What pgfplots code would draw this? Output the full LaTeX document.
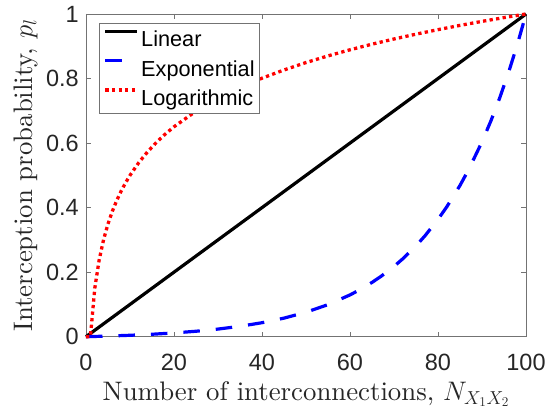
\RequirePackage{fix-cm}
\documentclass[border=0pt]{standalone}
\usepackage{fontspec}
\setmainfont{lmroman10-regular.otf}[ItalicFont=lmroman10-italic.otf]
\usepackage{pgfplots}
\pgfplotsset{compat=1.18}
\newfontfamily\arial{Liberation Sans}
\definecolor{axgray}{gray}{0.45}
\definecolor{txtgray}{gray}{0.15}

\begin{document}
\begin{tikzpicture}
\useasboundingbox (-86bp,-75.3bp) rectangle (461bp,336.7bp);
\begin{axis}[
  at={(0,0)}, anchor=south west,
  scale only axis, width=440bp, height=322.7bp,
  xmin=0, xmax=100, ymin=0, ymax=1,
  xtick={0,20,40,60,80,100},
  xticklabels={0,20,40,60,80,100},
  ytick={0,0.2,0.4,0.6,0.8,1},
  yticklabels={0,0.2,0.4,0.6,0.8,1},
  /pgf/number format/assume math mode=true,
  axis line style={draw=axgray, line width=0.9bp},
  every tick/.style={draw=axgray, line width=0.8bp},
  major tick length=5bp,
  tick align=inside,
  tick label style={font=\arial\fontsize{23.5bp}{28bp}\selectfont, text=txtgray},
  xticklabel style={anchor=base, inner sep=0pt, yshift=-33.3bp},
  yticklabel style={anchor=east, inner sep=0pt, xshift=-7bp},
  label style={font=\fontsize{26.8bp}{32bp}\selectfont, text=txtgray},
  xlabel={Number of interconnections, $N_{X_1X_2}$},
  ylabel={Interception probability, $p_l$},
  xlabel style={at={(axis description cs:0.5,-0.19616)}, anchor=base, inner sep=0pt},
  ylabel style={at={(axis description cs:-0.12205,0.5)}, anchor=base, inner sep=0pt},
  clip=false,
  legend cell align=left,
  legend style={at={(axis description cs:0.02955,0.9721)}, anchor=north west,
    draw=axgray, line width=0.8bp, fill=white,
    inner xsep=4.3bp, inner ysep=1.05bp, row sep=0pt,
    font=\arial\fontsize{21.7bp}{26bp}\selectfont,
    nodes={inner sep=0pt, text height=22.45bp, text depth=6.85bp},
    /tikz/every odd column/.append style={column sep=2.5bp}},
  legend image code/.code={\path (0bp,0bp); \draw[#1] (0bp,7.8bp) -- (31.7bp,7.8bp);},
]
% Linear
\addplot[black, line width=3.2bp] coordinates {(0,0) (100,1)};
\addlegendentry{Linear}
% Exponential
\addplot[color={rgb,255:red,0;green,0;blue,255}, line width=3.2bp, line join=round, dash pattern=on 16.5bp off 16bp] coordinates {
(0,0) (5,0.00193) (10,0.00440) (15,0.00758) (20,0.01166) (25,0.01689)
(30,0.02362) (35,0.03226) (40,0.04334) (45,0.05758) (50,0.07586)
(55,0.09933) (60,0.12947) (62,0.14380) (65,0.16817) (67,0.18656)
(70,0.21786) (72,0.24148) (75,0.28166) (77,0.31200) (80,0.36359)
(82,0.40254) (85,0.46879) (87,0.51880) (90,0.60385) (92,0.66807)
(94,0.73904) (96,0.81748) (98,0.90418) (100,1)
};
\addlegendentry{Exponential\hspace{2.3bp}}
% Logarithmic
\addplot[color={rgb,255:red,255;green,0;blue,0}, line width=3.3bp, line join=round, dash pattern=on 3.3bp off 3.3bp] coordinates {
(0,0) (1,0) (2,0.15051) (3,0.23856) (4,0.30103) (5,0.34949) (6,0.38908)
(7,0.42255) (8,0.45154) (9,0.47712) (10,0.5) (12,0.53959) (14,0.57306)
(16,0.60206) (18,0.62764) (20,0.65051) (25,0.69897) (30,0.73856)
(35,0.77203) (40,0.80103) (45,0.82660) (50,0.84949) (55,0.87018)
(60,0.88908) (65,0.90646) (70,0.92255) (75,0.93753) (80,0.95154)
(85,0.96471) (90,0.97712) (95,0.98886) (100,1)
};
\addlegendentry{Logarithmic}
\end{axis}
\end{tikzpicture}
\end{document}
